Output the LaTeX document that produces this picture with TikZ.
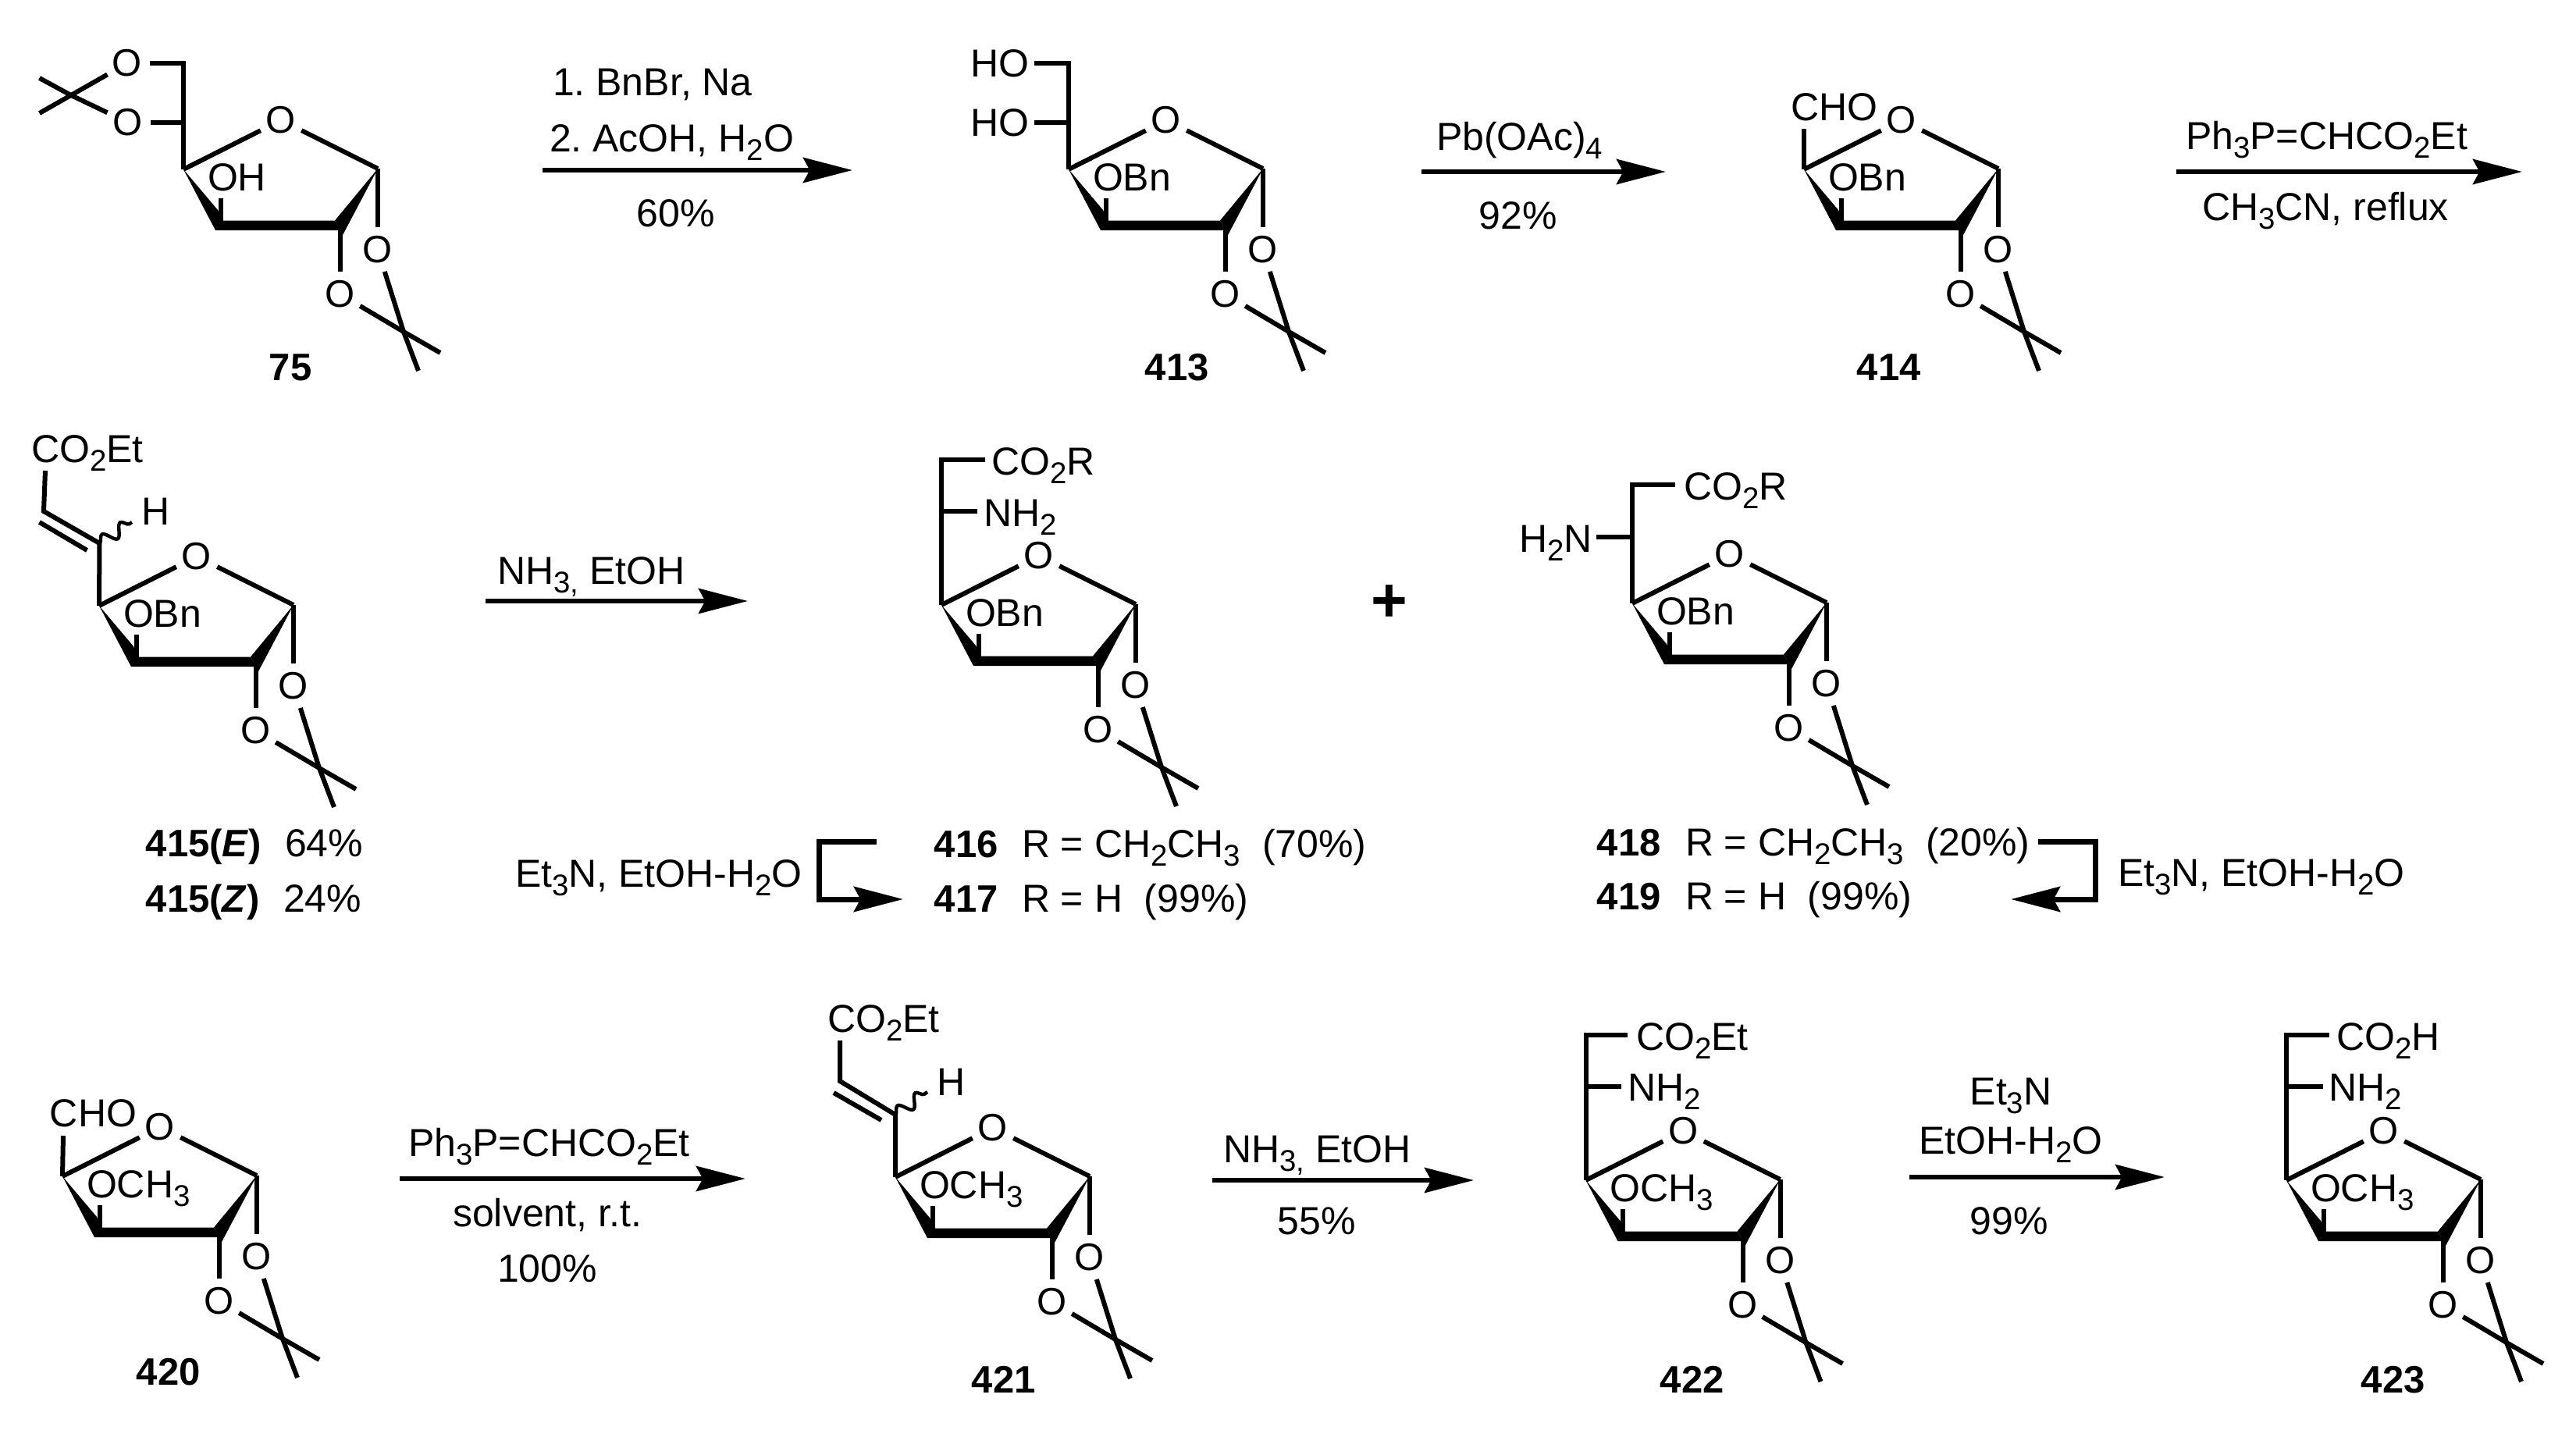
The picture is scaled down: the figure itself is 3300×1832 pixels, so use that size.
\documentclass[tikz,border=0pt]{standalone}
\usepackage{fontspec}
\setmainfont{Liberation Sans}
\usetikzlibrary{arrows.meta,decorations.pathmorphing}
\frenchspacing
\newcommand{\sbs}[1]{\raisebox{-0.23em}{\fontsize{9.6}{9.6}\selectfont #1}}
\tikzset{
  bond/.style={line width=1.5pt,line join=miter,black},
  wavybond/.style={line width=1.1pt,decorate,decoration={snake,segment length=7pt,amplitude=2pt}},
  atom/.style={circle,inner sep=0.5pt,font=\fontsize{12.25}{14}\selectfont},
  lab/.style={anchor=base west,inner sep=0pt,xshift=-0.7pt,font=\fontsize{12.5}{14}\selectfont},
  labc/.style={anchor=base,inner sep=0pt,font=\fontsize{12.5}{14}\selectfont},
  cpd/.style={anchor=base west,inner sep=0pt,xshift=-0.5pt,font=\fontsize{12.25}{14}\selectfont\bfseries},
  rxn/.style={line width=1.6pt,-{Stealth[length=15.75pt,width=8pt,inset=2.1pt]}},
  bent/.style={line width=1.75pt,line join=miter,-{Stealth[length=15.75pt,width=8pt,inset=2.1pt]}}
}
% furanose ring with acetonide: prefix, x, y of C4, label on C3
\newcommand{\furanose}[4]{%
  \begin{scope}[shift={(#2,#3)}]
    \coordinate (#14) at (0,0);
    \node[atom] (#1O) at (125,-63) {O};
    \coordinate (#11) at (249,-1);
    \coordinate (#13) at (47.5,72);
    \coordinate (#13t) at (47.5,37);
    \coordinate (#12) at (201,72);
    \node[atom] (#1Oa) at (249,103) {O};
    \node[atom] (#1Ob) at (201,160) {O};
    \coordinate (#1C) at (282,208);
    \coordinate (#1Ma) at (329,235);
    \coordinate (#1Mb) at (301,258);
    \fill[black] (0,0) -- (41,78) -- (50,66) -- (44,52) -- cycle;
    \fill[black] (41,78) -- (50,65.5) -- (194,65.5) -- (201,78) -- cycle;
    \fill[black] (249,-1) -- (194,65.5) -- (201,78) -- (203,86) -- cycle;
    \node[lab] (#1S) at (33,27) {#4};
  \end{scope}
  \draw[bond] (#14) -- (#1O);
  \draw[bond] (#11) -- (#1O);
  \draw[bond] (#13) -- (#13t);
  \draw[bond] (#12) -- (#1Ob);
  \draw[bond] (#11) -- (#1Oa);
  \draw[bond] (#1Oa) -- (#1C) -- (#1Mb);
  \draw[bond] (#1Ob) -- (#1C) -- (#1Ma);
}
\begin{document}
\begin{tikzpicture}[x=0.25pt,y=-0.25pt]
\useasboundingbox (0,0) rectangle (3300,1832);

% ---------- 75
\furanose{a}{235}{217}{OH}
\coordinate (atop) at (235,81);
\coordinate (abr) at (235,157);
\node[atom] (aOu) at (163,81) {O};
\node[atom] (aOl) at (164,157) {O};
\coordinate (aCM) at (91,122);
\coordinate (aMu) at (50.5,100);
\coordinate (aMl) at (50.5,145);
\draw[bond] (a4) -- (atop) -- (aOu);
\draw[bond] (abr) -- (aOl);
\draw[bond] (aOu) -- (aCM) -- (aMl);
\draw[bond] (aOl) -- (aCM) -- (aMu);
\node[cpd] (n75) at (346,487) {75};

% ---------- 413
\furanose{b}{1369}{217}{OBn}
\coordinate (btop) at (1369,81);
\coordinate (bbr) at (1369,157);
\node[lab] (bHa) at (1245,98) {HO};
\node[lab] (bHb) at (1245,174) {HO};
\coordinate (bHae) at (1325,81);
\coordinate (bHbe) at (1325,157);
\draw[bond] (b4) -- (btop) -- (bHae);
\draw[bond] (bbr) -- (bHbe);
\node[cpd] (n413) at (1468,487) {413};

% ---------- 414
\furanose{c}{2311}{217}{OBn}
\node[lab] (cCHO) at (2296,154) {CHO};
\coordinate (cCHOe) at (2311,165);
\draw[bond] (c4) -- (cCHOe);
\node[cpd] (n414) at (2380,487) {414};

% ---------- arrows row 1
\coordinate (r1s) at (695,218); \coordinate (r1e) at (1092,218);
\draw[rxn] (r1s) -- (r1e);
\node[lab] (r1a) at (710,122) {1. BnBr, Na};
\node[lab] (r1b) at (706,194) {2. AcOH, H\sbs{2}O};
\node[labc] (r1c) at (866,290) {60\%};
\coordinate (r2s) at (1821,220); \coordinate (r2e) at (2134,220);
\draw[rxn] (r2s) -- (r2e);
\node[lab] (r2a) at (1842,192) {Pb(OAc)\sbs{4}};
\node[labc] (r2c) at (1945,293) {92\%};
\coordinate (r3s) at (2788,220); \coordinate (r3e) at (3231,220);
\draw[rxn] (r3s) -- (r3e);
\node[lab] (r3a) at (2802,191) {Ph\sbs{3}P=CHCO\sbs{2}Et};
\node[lab] (r3b) at (2823,282) {CH\sbs{3}CN, reflux};

% ---------- 415
\furanose{d}{127}{776}{OBn}
\coordinate (dC) at (127.5,696);
\coordinate (dV) at (56,655);
\coordinate (dE) at (58,603);
\coordinate (dDa) at (50.5,669);
\coordinate (dDb) at (111.5,705);
\coordinate (dW) at (169,669);
\node[lab] (dCO) at (42,592) {CO\sbs{2}Et};
\node[lab] (dH) at (183,672) {H};
\draw[bond] (d4) -- (dC) -- (dV) -- (dE);
\draw[bond] (dDa) -- (dDb);
\draw[wavybond] (dC) -- (dW);
\node[cpd] (n415e) at (188,1097) {415(\textit{E})};
\node[lab] (y415e) at (367,1097) {64\%};
\node[cpd] (n415z) at (188,1168) {415(\textit{Z})};
\node[lab] (y415z) at (365,1168) {24\%};

% ---------- 416/417
\coordinate (r4s) at (622,770); \coordinate (r4e) at (958,770);
\draw[rxn] (r4s) -- (r4e);
\node[lab] (r4a) at (639,748) {NH\sbs{3,} EtOH};
\furanose{e}{1206}{775}{OBn}
\coordinate (etop) at (1206,589);
\coordinate (ebr) at (1206,655);
\coordinate (ee1) at (1262,589);
\coordinate (ee2) at (1252,655);
\node[lab] (eCO) at (1272,608) {CO\sbs{2}R};
\node[lab] (eNH) at (1262,674) {NH\sbs{2}};
\draw[bond] (e4) -- (etop) -- (ee1);
\draw[bond] (ebr) -- (ee2);
\node[cpd] (n416) at (1198,1098) {416};
\node[lab] (t416) at (1311,1098) {R = CH\sbs{2}CH\sbs{3}\ \ (70\%)};
\node[cpd] (n417) at (1198,1168) {417};
\node[lab] (t417) at (1311,1168) {R = H\ \ (99\%)};
\node[lab] (tleft) at (662,1136) {Et\sbs{3}N, EtOH-H\sbs{2}O};
\coordinate (la) at (1123,1078);
\coordinate (lb) at (1049,1078);
\coordinate (lc) at (1049,1152);
\coordinate (ld) at (1157,1152);
\draw[bent] (la) -- (lb) -- (lc) -- (ld);

\node[inner sep=0pt,font=\fontsize{20}{20}\selectfont\bfseries] (plus) at (1780,773) {+};

% ---------- 418/419
\furanose{f}{2091}{773}{OBn}
\coordinate (ftop) at (2091,621);
\coordinate (fbr) at (2091,688);
\coordinate (fe1) at (2146,621);
\coordinate (fe2) at (2045,688);
\node[lab] (fCO) at (2159,640) {CO\sbs{2}R};
\node[lab] (fNH) at (1948,707) {H\sbs{2}N};
\draw[bond] (f4) -- (ftop) -- (fe1);
\draw[bond] (fbr) -- (fe2);
\node[cpd] (n418) at (2047,1096) {418};
\node[lab] (t418) at (2161,1096) {R = CH\sbs{2}CH\sbs{3}\ \ (20\%)};
\node[cpd] (n419) at (2047,1165) {419};
\node[lab] (t419) at (2161,1165) {R = H\ \ (99\%)};
\node[lab] (tright) at (2715,1135) {Et\sbs{3}N, EtOH-H\sbs{2}O};
\coordinate (ra) at (2611,1078);
\coordinate (rb) at (2684,1078);
\coordinate (rc) at (2684,1152);
\coordinate (rd) at (2576,1152);
\draw[bent] (ra) -- (rb) -- (rc) -- (rd);

% ---------- 420
\furanose{g}{80}{1507}{OCH\sbs{3}}
\node[lab] (gCHO) at (66,1443) {CHO};
\coordinate (gCHOe) at (81,1455);
\draw[bond] (g4) -- (gCHOe);
\node[cpd] (n420) at (176,1774) {420};
\coordinate (r5s) at (512,1510); \coordinate (r5e) at (955,1510);
\draw[rxn] (r5s) -- (r5e);
\node[lab] (r5a) at (525,1481) {Ph\sbs{3}P=CHCO\sbs{2}Et};
\node[labc] (r5b) at (701,1571) {solvent, r.t.};
\node[labc] (r5c) at (701,1642) {100\%};

% ---------- 421
\furanose{h}{1147}{1508}{OCH\sbs{3}}
\coordinate (hC) at (1147,1428);
\coordinate (hV) at (1076,1385);
\coordinate (hE) at (1076,1333);
\coordinate (hDa) at (1068,1400);
\coordinate (hDb) at (1129,1435);
\coordinate (hW) at (1188,1399);
\node[lab] (hCO) at (1062,1322) {CO\sbs{2}Et};
\node[lab] (hH) at (1202,1403) {H};
\draw[bond] (h4) -- (hC) -- (hV) -- (hE);
\draw[bond] (hDa) -- (hDb);
\draw[wavybond] (hC) -- (hW);
\node[cpd] (n421) at (1246,1784) {421};
\coordinate (r6s) at (1553,1512); \coordinate (r6e) at (1888,1512);
\draw[rxn] (r6s) -- (r6e);
\node[lab] (r6a) at (1569,1489) {NH\sbs{3,} EtOH};
\node[labc] (r6c) at (1687,1581) {55\%};

% ---------- 422
\furanose{i}{2031.5}{1512}{OCH\sbs{3}}
\coordinate (itop) at (2031.5,1326);
\coordinate (ibr) at (2031.5,1392);
\coordinate (ie1) at (2085,1326);
\coordinate (ie2) at (2077,1392);
\node[lab] (iCO) at (2098,1345) {CO\sbs{2}Et};
\node[lab] (iNH) at (2087,1410) {NH\sbs{2}};
\draw[bond] (i4) -- (itop) -- (ie1);
\draw[bond] (ibr) -- (ie2);
\node[cpd] (n422) at (2128,1784) {422};
\coordinate (r7s) at (2446,1508); \coordinate (r7e) at (2773,1508);
\draw[rxn] (r7s) -- (r7e);
\node[labc] (r7a) at (2576,1415) {Et\sbs{3}N};
\node[labc] (r7b) at (2576,1478) {EtOH-H\sbs{2}O};
\node[labc] (r7c) at (2574,1581) {99\%};

% ---------- 423
\furanose{j}{2929}{1512}{OCH\sbs{3}}
\coordinate (jtop) at (2929,1326);
\coordinate (jbr) at (2929,1392);
\coordinate (je1) at (2984,1326);
\coordinate (je2) at (2976,1392);
\node[lab] (jCO) at (2995,1345) {CO\sbs{2}H};
\node[lab] (jNH) at (2985,1410) {NH\sbs{2}};
\draw[bond] (j4) -- (jtop) -- (je1);
\draw[bond] (jbr) -- (je2);
\node[cpd] (n423) at (3026,1784) {423};
\end{tikzpicture}
\end{document}
